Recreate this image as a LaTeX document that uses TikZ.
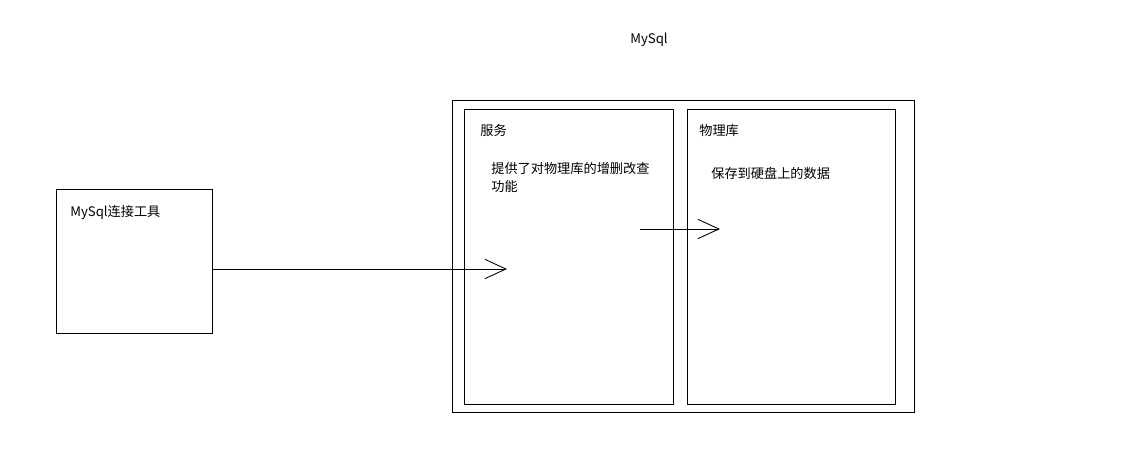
\documentclass[tikz,border=0pt]{standalone}
\usepackage{fontspec}
\newfontfamily\cjk{Noto Sans CJK SC}
\usetikzlibrary{arrows.meta}
\begin{document}
\begin{tikzpicture}[x=0.02cm,y=-0.02cm,
    box/.style={draw,line width=0.5pt},
    txt/.style={anchor=west,inner sep=0pt,font=\cjk\fontsize{7.5}{11}\selectfont},
    flow/.style={-{Straight Barb[length=12pt,width=11pt]},line width=0.5pt}]
  \useasboundingbox (0,0) rectangle (1141,463);
  % titre
  \node[txt,anchor=center] (title) at (649,40) {MySql};
  % boites
  \draw[box] (452,100) rectangle (914,412);
  \draw[box] (464,109) rectangle (673,404);
  \draw[box] (687,109) rectangle (895,404);
  \draw[box] (56,189) rectangle (212,333);
  % textes
  \node[txt] (svc) at (480,130) {服务};
  \node[txt] (svcdesc) at (491,168) {提供了对物理库的增删改查};
  \node[txt] (svcdesc2) at (491,186) {功能};
  \node[txt] (lib) at (699,131) {物理库};
  \node[txt] (libdesc) at (711,173) {保存到硬盘上的数据};
  \node[txt] (tool) at (70,213) {MySql连接工具};
  % fleches
  \coordinate (a1) at (212,269);
  \coordinate (a2) at (507,269);
  \coordinate (b1) at (640,229);
  \coordinate (b2) at (720,229);
  \draw[flow] (a1) -- (a2);
  \draw[flow] (b1) -- (b2);
\end{tikzpicture}
\end{document}
